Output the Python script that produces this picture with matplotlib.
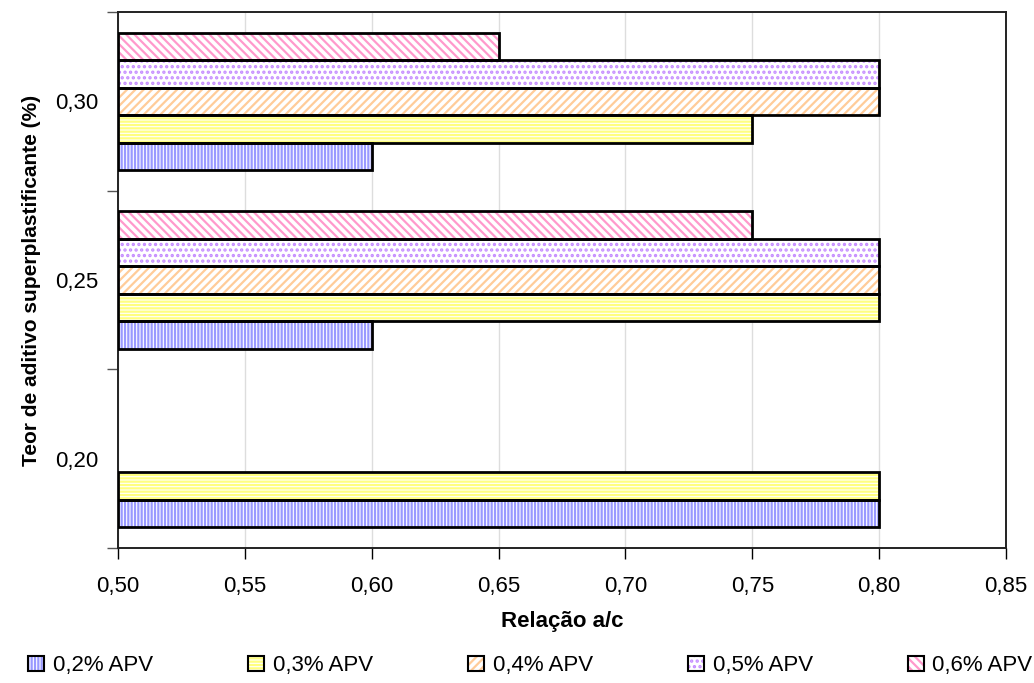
import numpy as np
import matplotlib
matplotlib.use("Agg")
import matplotlib.pyplot as plt
from matplotlib.patches import Patch
from matplotlib.legend_handler import HandlerTuple

plt.rcParams["font.family"] = ["Liberation Sans", "DejaVu Sans"]
plt.rcParams["hatch.linewidth"] = 1.6

# Superplasticizer content (y categories) and w/c ratio per APV content
categories = ["0,20", "0,25", "0,30"]
series_names = ["0,2% APV", "0,3% APV", "0,4% APV", "0,5% APV", "0,6% APV"]
apv_02 = [0.80, 0.60, 0.60]
apv_03 = [0.80, 0.80, 0.75]
apv_04 = [np.nan, 0.80, 0.80]
apv_05 = [np.nan, 0.80, 0.80]
apv_06 = [np.nan, 0.75, 0.65]
series = [apv_02, apv_03, apv_04, apv_05, apv_06]

x_ticks = [0.50, 0.55, 0.60, 0.65, 0.70, 0.75, 0.80, 0.85]
x_tick_labels = ["0,50", "0,55", "0,60", "0,65", "0,70", "0,75", "0,80", "0,85"]

colors = ["#9999ff", "#ffff80", "#ffcc99", "#c58cff", "#ff99cc"]
hatches = ["|||||", "-----", "////", "...", "\\\\\\\\"]

fig = plt.figure(figsize=(10.34, 6.83), dpi=100)
ax = fig.add_axes([118 / 1034, 1 - 548 / 683, (1006 - 118) / 1034, (548 - 12) / 683])

base = 0.50
n = len(series)
h = 0.154
y = np.arange(len(categories))
for i, (vals, c, ht) in enumerate(zip(series, colors, hatches)):
    vals = np.asarray(vals, dtype=float)
    widths = vals - base
    pos = y + (i - (n - 1) / 2) * h
    ax.barh(pos, widths, height=h, left=base, color="white", hatch=ht,
            edgecolor=c, linewidth=0, zorder=2)
    ax.barh(pos, widths, height=h, left=base, fill=False,
            edgecolor="black", linewidth=2.0, zorder=3)

ax.set_xlim(0.50, 0.85)
ax.set_ylim(-0.5, len(categories) - 0.5)
ax.set_xticks(x_ticks)
ax.set_xticklabels(x_tick_labels, fontsize=16)
ax.set_yticks(y)
ax.set_yticklabels(categories, fontsize=16)
ax.set_yticks(np.arange(-0.5, len(categories)), minor=True)
ax.tick_params(axis="y", which="major", length=0, pad=14)
ax.tick_params(axis="y", which="minor", length=8, color="#555555", width=1)
ax.tick_params(axis="x", which="major", length=8, width=1, pad=12)

ax.xaxis.grid(True, color="#dddddd", linewidth=1, zorder=0)
ax.set_axisbelow(True)
for s in ax.spines.values():
    s.set_color("#222222")
    s.set_linewidth(1.4)

ax.set_xlabel("Relação a/c", fontsize=16, fontweight="bold", labelpad=10)
ax.set_ylabel("Teor de aditivo superplastificante (%)", fontsize=15,
              fontweight="bold", labelpad=10)

handles = [(Patch(facecolor="white", edgecolor=c, hatch=ht, linewidth=0),
            Patch(facecolor="none", edgecolor="black", linewidth=1.5))
           for c, ht in zip(colors, hatches)]
fig.legend(handles, series_names, loc="center left", ncol=5,
           bbox_to_anchor=(0.008, 0.008, 1.01, 0.035), mode="expand",
           frameon=False, fontsize=16, handlelength=0.7, handleheight=0.7,
           handletextpad=0.4, handler_map={tuple: HandlerTuple(ndivide=1)})

fig.savefig("out.png", dpi=100)
